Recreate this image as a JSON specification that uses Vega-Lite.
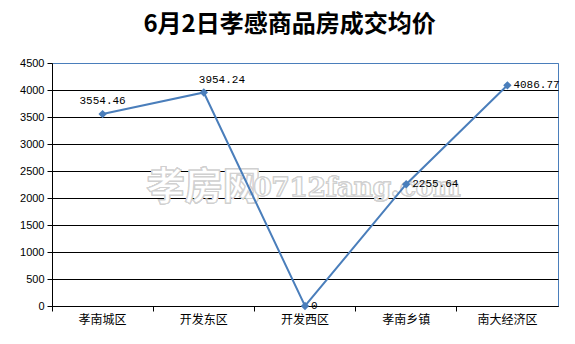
{
  "$schema": "https://vega.github.io/schema/vega-lite/v6.json",
  "width": 506,
  "height": 243,
  "autosize": {"type": "none"},
  "padding": {"left": 52, "top": 63, "right": 17, "bottom": 38},
  "background": "white",
  "config": {"view": {"stroke": "#4a7ebb", "strokeWidth": 1}},
  "title": {
    "text": "6月2日孝感商品房成交均价",
    "font": "Noto Sans CJK SC",
    "fontSize": 24,
    "fontWeight": "bold",
    "color": "black",
    "anchor": "middle",
    "frame": "bounds",
    "offset": 20
  },
  "data": {
    "values": [
      {"area": "孝南城区", "price": 3554.46, "label": "3554.46"},
      {"area": "开发东区", "price": 3954.24, "label": "3954.24"},
      {"area": "开发西区", "price": 0, "label": "0"},
      {"area": "孝南乡镇", "price": 2255.64, "label": "2255.64"},
      {"area": "南大经济区", "price": 4086.77, "label": "4086.77"}
    ]
  },
  "encoding": {
    "x": {
      "field": "area",
      "type": "nominal",
      "sort": null,
      "bandPosition": 0.5,
      "scale": {"type": "band", "paddingInner": 0, "paddingOuter": 0, "domain": ["孝南城区", "开发东区", "开发西区", "孝南乡镇", "南大经济区"]},
      "axis": {
        "title": null,
        "labelAngle": 0,
        "bandPosition": 0,
        "domainColor": "black",
        "tickColor": "black",
        "tickSize": 5,
        "labelFont": "Noto Sans CJK SC",
        "labelFontSize": 12,
        "labelColor": "black",
        "labelPadding": 3
      }
    },
    "y": {
      "field": "price",
      "type": "quantitative",
      "scale": {"domain": [0, 4500], "nice": false},
      "axis": {
        "title": null,
        "format": "d",
        "values": [0, 500, 1000, 1500, 2000, 2500, 3000, 3500, 4000, 4500],
        "grid": true,
        "gridColor": {"condition": {"test": "datum.value === 4500", "value": "#4a7ebb"}, "value": "black"},
        "gridOpacity": 1,
        "domainColor": "black",
        "tickColor": "black",
        "tickSize": 5,
        "labelFont": "Liberation Sans",
        "labelFontSize": 11,
        "labelColor": "black",
        "labelPadding": 3
      }
    }
  },
  "layer": [
    {
      "mark": {"type": "text", "text": "孝房网", "font": "Noto Sans CJK SC", "fontSize": 38, "fontWeight": "bold", "fill": "white", "fillOpacity": 1, "stroke": "#d0d0d0", "strokeWidth": 1, "align": "center", "baseline": "middle"},
      "encoding": {"x": {"datum": "开发东区"}, "y": {"datum": 2185}}
    },
    {
      "mark": {"type": "text", "text": "0712fang.com", "font": "DejaVu Serif", "fontSize": 26, "fontWeight": "bold", "fill": "white", "fillOpacity": 1, "stroke": "#d0d0d0", "strokeWidth": 1, "align": "center", "baseline": "middle", "dx": 52},
      "encoding": {"x": {"datum": "开发西区"}, "y": {"datum": 2185}}
    },
    {
      "mark": {"type": "line", "color": "#4a7ebb", "strokeWidth": 2}
    },
    {
      "mark": {"type": "point", "shape": "diamond", "filled": true, "size": 70, "color": "#4a7ebb", "opacity": 1}
    },
    {
      "transform": [{"filter": "datum.area === '孝南城区'"}],
      "mark": {"type": "text", "font": "Liberation Mono", "fontSize": 11, "color": "black", "align": "center", "baseline": "bottom", "dy": -8},
      "encoding": {"text": {"field": "label"}}
    },
    {
      "transform": [{"filter": "datum.area === '开发东区'"}],
      "mark": {"type": "text", "font": "Liberation Mono", "fontSize": 11, "color": "black", "align": "left", "baseline": "bottom", "dx": -5, "dy": -7},
      "encoding": {"text": {"field": "label"}}
    },
    {
      "transform": [{"filter": "datum.area !== '孝南城区' && datum.area !== '开发东区'"}],
      "mark": {"type": "text", "font": "Liberation Mono", "fontSize": 11, "color": "black", "align": "left", "baseline": "middle", "dx": 6},
      "encoding": {"text": {"field": "label"}}
    }
  ]
}
